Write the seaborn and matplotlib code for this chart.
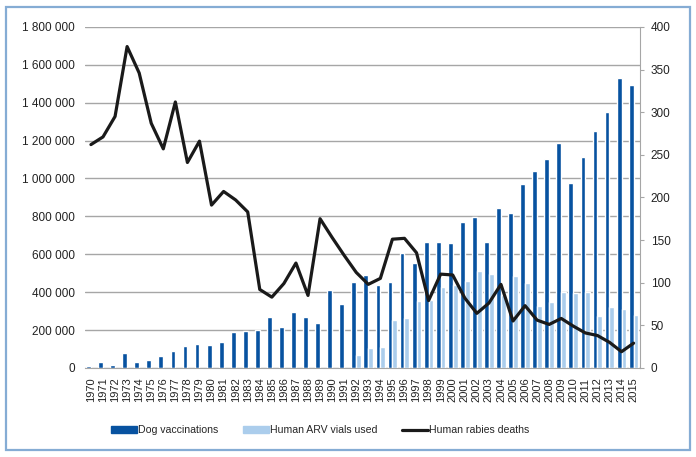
import numpy as np
import pandas as pd
import matplotlib
matplotlib.use("Agg")
import matplotlib.pyplot as plt
import matplotlib.ticker as mticker
from matplotlib.patches import Rectangle
from matplotlib.lines import Line2D
import seaborn as sns

years = [str(y) for y in range(1970, 2016)]

dog_vacc = [12e3, 33e3, 14e3, 77e3, 33e3, 44e3, 63e3, 88e3, 114e3, 128e3,
            123e3, 137e3, 191e3, 196e3, 198e3, 270e3, 218e3, 295e3, 270e3, 237e3,
            412e3, 337e3, 454e3, 491e3, 435e3, 453e3, 607e3, 554e3, 667e3, 667e3,
            658e3, 768e3, 796e3, 665e3, 842e3, 818e3, 972e3, 1039e3, 1104e3, 1189e3,
            974e3, 1116e3, 1249e3, 1352e3, 1532e3, 1492e3]

arv_vials = [np.nan] * 22 + [70e3, 107e3, 112e3, 254e3, 265e3, 354e3, 360e3, 426e3,
                             435e3, 460e3, 509e3, 496e3, 386e3, 486e3, 447e3, 328e3,
                             346e3, 400e3, 398e3, 400e3, 272e3, 319e3, 312e3, 277e3]

deaths = [262, 271, 295, 377, 346, 287, 257, 312, 241, 266,
          191, 207, 197, 183, 92, 83, 99, 123, 85, 175,
          153, 132, 112, 98, 105, 151, 152, 135, 79, 110,
          109, 82, 64, 76, 98, 55, 73, 56, 51, 58,
          49, 41, 38, 30, 19, 29]

dark_blue = "#0752a0"
light_blue = "#abcdec"

bars = pd.DataFrame({"Year": years, "Dog vaccinations": dog_vacc,
                     "Human ARV vials used": arv_vials})
bars = bars.melt(id_vars="Year", var_name="Series", value_name="Value")

sns.set_style("white")
plt.rcParams["font.family"] = ["Liberation Sans", "DejaVu Sans"]

fig = plt.figure(figsize=(6.96, 4.57), dpi=100)
ax = fig.add_axes([0.122, 0.195, 0.797, 0.746])

sns.barplot(data=bars, x="Year", y="Value", hue="Series",
            palette=[dark_blue, light_blue], width=0.8, ax=ax,
            errorbar=None, legend=False, saturation=1)

ax.set_ylim(0, 1800000)
ax.set_yticks(np.arange(0, 1800001, 200000))
ax.yaxis.set_major_formatter(mticker.FuncFormatter(
    lambda v, p: f"{int(v):,}".replace(",", " ")))
ax.set_xlim(-0.5, len(years) - 0.5)
ax.grid(axis="y", color="#a6a6a6", lw=1)
ax.set_axisbelow(True)
ax.set_xlabel("")
ax.set_ylabel("")
for s in ["top", "left", "right"]:
    ax.spines[s].set_visible(False)
ax.spines["bottom"].set_color("#a6a6a6")
ax.tick_params(axis="x", rotation=90, labelsize=8, length=0, pad=7, colors="#222222")
ax.tick_params(axis="y", labelsize=8.5, length=0, pad=7, colors="#222222")

ax2 = ax.twinx()
sns.lineplot(x=np.arange(len(years)), y=deaths, color="#1a1a1a", lw=2.3, ax=ax2)
ax2.set_ylim(0, 400)
ax2.set_yticks(np.arange(0, 401, 50))
ax2.set_xlim(-0.5, len(years) - 0.5)
for s in ["top", "left", "bottom"]:
    ax2.spines[s].set_visible(False)
ax2.spines["right"].set_color("#a6a6a6")
ax2.tick_params(axis="y", labelsize=8.5, length=3, pad=5, colors="#222222")
ax2.tick_params(axis="y", color="#a6a6a6")

handles = [Rectangle((0, 0), 1, 1, color=dark_blue),
           Rectangle((0, 0), 1, 1, color=light_blue),
           Line2D([0], [0], color="#1a1a1a", lw=2.3)]
labels = ["Dog vaccinations", "Human ARV vials used", "Human rabies deaths"]
fig.legend(handles, labels, loc="center", bbox_to_anchor=(0.46, 0.058), ncol=3,
           frameon=False, fontsize=7.6, handlelength=2.4, handleheight=0.6,
           handletextpad=0.1, columnspacing=2.4)

fig.patches.append(Rectangle((0.008, 0.015), 0.983, 0.97, transform=fig.transFigure,
                             fill=False, edgecolor="#85acd4", lw=1.6))

fig.savefig("out.png", dpi=100)
